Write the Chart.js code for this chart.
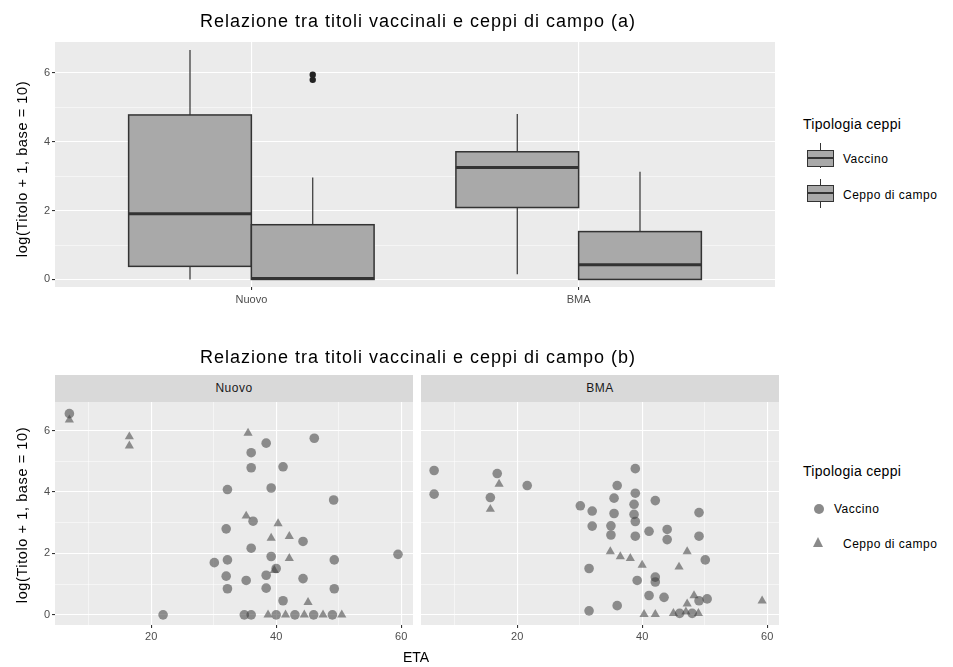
<!DOCTYPE html>
<html><head><meta charset="utf-8">
<script src="https://cdn.jsdelivr.net/npm/chart.js@4.4.0/dist/chart.umd.min.js"></script>
<style>
body{margin:0;background:#fff;width:953px;height:667px;position:relative;overflow:hidden;font-family:"Liberation Sans",Arial,sans-serif;}
.abs{position:absolute;white-space:nowrap;}
canvas{position:absolute;}
.title{font-size:18px;letter-spacing:1px;color:#000;transform:translateX(-50%);}
.ytitle{font-size:14.5px;letter-spacing:0.6px;color:#000;transform:translate(-50%,-50%) rotate(-90deg);}
.strip{position:absolute;background:#d9d9d9;font-size:12px;letter-spacing:0.5px;color:#1a1a1a;text-align:center;}
.legt{font-size:14px;letter-spacing:0.3px;color:#000;}
.legl{font-size:12px;letter-spacing:0.5px;color:#000;transform:translateY(-50%);}
.kbox{position:absolute;background:#a9a9a9;border:1px solid #333;box-sizing:border-box;}
.kline{position:absolute;background:#333;}
</style></head>
<body>
<canvas id="cA" width="790" height="330" style="left:0;top:0"></canvas>
<canvas id="cB" width="420" height="327" style="left:0;top:340px"></canvas>
<canvas id="cC" width="380" height="327" style="left:415px;top:340px"></canvas>

<div class="abs title" style="left:418px;top:11px">Relazione tra titoli vaccinali e ceppi di campo (a)</div>
<div class="abs title" style="left:418px;top:347px">Relazione tra titoli vaccinali e ceppi di campo (b)</div>
<div class="abs ytitle" style="left:22px;top:169px">log(Titolo + 1, base = 10)</div>
<div class="abs ytitle" style="left:22px;top:515px">log(Titolo + 1, base = 10)</div>
<div class="abs" style="left:403px;top:649px;font-size:14px">ETA</div>

<div class="strip" id="s0" style="left:55px;top:375px;width:358px;height:27px;line-height:27px"></div>
<div class="strip" id="s1" style="left:421px;top:375px;width:358px;height:27px;line-height:27px"></div>

<!-- legend top -->
<div class="abs legt" style="left:803px;top:116px">Tipologia ceppi</div>
<div class="kline" style="left:820px;top:143px;width:1px;height:25px"></div>
<div class="kbox" style="left:807px;top:150px;width:27px;height:17px"></div>
<div class="kline" style="left:807px;top:157px;width:27px;height:2px"></div>
<div class="abs legl" id="lA0" style="left:843px;top:159px"></div>
<div class="kline" style="left:820px;top:179px;width:1px;height:29px"></div>
<div class="kbox" style="left:807px;top:185px;width:27px;height:17px"></div>
<div class="kline" style="left:807px;top:192px;width:27px;height:2px"></div>
<div class="abs legl" id="lA1" style="left:843px;top:195px"></div>

<!-- legend bottom -->
<div class="abs legt" style="left:803px;top:463px">Tipologia ceppi</div>
<div class="abs" style="left:814px;top:504px;width:10px;height:10px;border-radius:50%;background:rgba(60,60,60,0.6)"></div>
<div class="abs legl" id="lB0" style="left:834px;top:509px"></div>
<div class="abs" style="left:813px;top:537px;width:0;height:0;border-left:5.5px solid transparent;border-right:5.5px solid transparent;border-bottom:10px solid rgba(60,60,60,0.6)"></div>
<div class="abs legl" id="lB1" style="left:843px;top:544px"></div>

<script>
// ---------- data ----------
const categories = ['Nuovo', 'BMA'];
const groups = ['Vaccino', 'Ceppo di campo'];
const yTicks = [0, 1, 2, 3, 4, 5, 6];
const etaTicks = [10, 20, 30, 40, 50, 60];

// boxplot (a)
const vacMin = [0, 0.15], vacQ1 = [0.38, 2.09], vacMed = [1.91, 3.25], vacQ3 = [4.78, 3.71], vacMax = [6.67, 4.81];
const cepMin = [0, 0],    cepQ1 = [0, 0],       cepMed = [0.03, 0.43], cepQ3 = [1.59, 1.39], cepMax = [2.96, 3.13];
const cepOutCat = [0, 0], cepOutVal = [5.8, 5.95];

// scatter (b) — facet Nuovo
const nuovoVacEta = [6.9,21.9,30.1,32.2,32.0,32.2,32.0,32.2,36.0,36.0,38.4,46.1,41.1,39.2,49.2,36.3,44.3,36.0,39.2,49.3,59.5,40.0,38.4,35.2,44.3,38.4,49.3,41.1,34.9,36.0,40.0,43.0,46.0,49.0];
const nuovoVacTit = [6.55,0,1.7,1.79,2.8,4.08,1.26,0.85,5.28,4.79,5.59,5.75,4.82,4.13,3.74,3.05,2.39,2.17,1.9,1.79,1.97,1.51,1.29,1.12,1.18,0.87,0.85,0.46,0,0,0,0,0,0];
const nuovoCepEta = [6.9,16.5,16.5,35.5,35.2,40.3,39.2,42.1,42.1,39.7,45.1,38.7,41.5,44.5,47.5,50.5];
const nuovoCepTit = [6.35,5.5,5.8,5.92,3.22,2.97,2.5,2.56,1.84,1.45,0.41,0,0,0,0,0];
// facet BMA
const bmaVacEta = [6.7,6.7,16.8,15.7,21.6,30.1,32.0,32.0,31.5,31.5,38.9,36.0,38.9,42.1,35.5,35.5,35.0,35.0,38.7,38.7,38.9,49.1,41.1,38.9,44.0,44.0,49.1,50.1,39.2,42.1,42.1,41.1,43.5,50.4,36.0,49.1,46.0,48.0];
const bmaVacTit = [4.7,3.93,4.6,3.82,4.21,3.55,3.38,2.89,1.51,0.13,4.76,4.21,3.96,3.72,3.8,3.3,2.9,2.6,3.6,3.27,3.04,3.33,2.72,2.56,2.78,2.45,2.56,1.79,1.12,1.23,1.07,0.63,0.57,0.52,0.3,0.46,0.05,0.05];
const bmaCepEta = [17.1,15.7,34.9,36.5,38.1,47.2,45.9,40.0,48.3,40.3,42.1,47.2,59.2,45.0,47.0,49.0];
const bmaCepTit = [4.26,3.44,2.06,1.9,1.84,2.06,1.56,1.62,0.63,0.02,0.02,0.36,0.46,0.05,0.1,0.05];

// ---------- text ----------
document.getElementById('s0').textContent = categories[0];
document.getElementById('s1').textContent = categories[1];
document.getElementById('lA0').textContent = groups[0];
document.getElementById('lA1').textContent = groups[1];
document.getElementById('lB0').textContent = groups[0];
document.getElementById('lB1').textContent = groups[1];

// ---------- helpers ----------
const FONT = {family: '"Liberation Sans", Arial, sans-serif', size: 11};
const TICKCOL = '#4d4d4d';
const panelBg = {id: 'panelBg', beforeDraw(chart) {
  const {ctx, chartArea: a} = chart;
  ctx.save(); ctx.fillStyle = '#ebebeb';
  ctx.fillRect(a.left, a.top, a.right - a.left, a.bottom - a.top);
  ctx.restore();
}};
const zip = (xs, ys) => xs.map((x, i) => ({x, y: ys[i]}));

function yScale(min, max, showLabels) {
  return {
    type: 'linear', min, max,
    afterBuildTicks: s => { s.ticks = yTicks.map(v => ({value: v})); },
    afterFit: s => { s.width = showLabels ? 20 : 0; },
    border: {display: false},
    grid: {color: '#ffffff', lineWidth: c => (c.tick && c.tick.value % 2 === 0) ? 1.1 : 0.5,
           drawTicks: showLabels, tickLength: 3,
           tickColor: c => (c.tick && c.tick.value % 2 === 0) ? '#333333' : 'rgba(0,0,0,0)'},
    ticks: {display: showLabels, font: FONT, color: TICKCOL, padding: 2,
            callback: v => (v % 2 === 0 ? String(v) : '')}
  };
}

// ---------- chart A: boxplots ----------
const boxPlugin = {id: 'boxes', beforeDatasetsDraw(chart) {
  const xs = chart.scales.x, ys = chart.scales.y, ctx = chart.ctx;
  const stats = [[vacMin, vacQ1, vacMed, vacQ3, vacMax], [cepMin, cepQ1, cepMed, cepQ3, cepMax]];
  const half = 0.1875;
  ctx.save();
  stats.forEach((st, gi) => {
    categories.forEach((c, ci) => {
      const xc = ci + 1 + (gi === 0 ? -half : half);
      const x0 = xs.getPixelForValue(xc - half), x1 = xs.getPixelForValue(xc + half), xm = xs.getPixelForValue(xc);
      const [mn, q1, md, q3, mx] = st.map(a => ys.getPixelForValue(a[ci]));
      ctx.strokeStyle = '#333333';
      ctx.lineWidth = 1.2;
      ctx.beginPath(); ctx.moveTo(xm, mx); ctx.lineTo(xm, q3); ctx.moveTo(xm, q1); ctx.lineTo(xm, mn); ctx.stroke();
      ctx.fillStyle = '#a9a9a9';
      ctx.fillRect(x0, q3, x1 - x0, q1 - q3);
      ctx.lineWidth = 1.5;
      ctx.strokeRect(x0, q3, x1 - x0, q1 - q3);
      ctx.lineWidth = 3;
      ctx.beginPath(); ctx.moveTo(x0, md); ctx.lineTo(x1, md); ctx.stroke();
    });
  });
  ctx.restore();
}};

new Chart(document.getElementById('cA'), {
  type: 'scatter',
  data: {datasets: [{
    label: groups[1] + ' outlier',
    data: cepOutCat.map((c, i) => ({x: c + 1 + 0.1875, y: cepOutVal[i]})),
    pointStyle: 'circle', pointRadius: 3.2, backgroundColor: '#222', borderWidth: 0
  }]},
  options: {
    responsive: false, animation: false, devicePixelRatio: 1,
    layout: {padding: {left: 35, right: 15, top: 42, bottom: 18}},
    plugins: {legend: {display: false}, tooltip: {enabled: false}},
    scales: {
      x: {type: 'linear', min: 0.4, max: 2.6,
          afterBuildTicks: s => { s.ticks = categories.map((c, i) => ({value: i + 1})); },
          afterFit: s => { s.height = 25; },
          border: {display: false},
          grid: {color: '#ffffff', lineWidth: 1.1, tickLength: 3, tickColor: '#333333'},
          ticks: {font: FONT, color: TICKCOL, padding: 3, maxRotation: 0,
                  callback: v => categories[Math.round(v) - 1] || ''}},
      y: yScale(-0.22, 6.9, true)
    }
  },
  plugins: [panelBg, boxPlugin]
});

// ---------- charts B/C: scatter facets ----------
function facet(id, vx, vy, cx, cy, showY, pad) {
  new Chart(document.getElementById(id), {
    type: 'scatter',
    data: {datasets: [
      {label: groups[0], data: zip(vx, vy), pointStyle: 'circle', pointRadius: 4.8,
       backgroundColor: 'rgba(60,60,60,0.55)', borderWidth: 0},
      {label: groups[1], data: zip(cx, cy), pointStyle: 'triangle', pointRadius: 5.3,
       backgroundColor: 'rgba(60,60,60,0.55)', borderWidth: 0}
    ]},
    options: {
      responsive: false, animation: false, devicePixelRatio: 1,
      layout: {padding: pad},
      plugins: {legend: {display: false}, tooltip: {enabled: false}},
      scales: {
        x: {type: 'linear', min: 4.6, max: 61.9,
            afterBuildTicks: s => { s.ticks = etaTicks.map(v => ({value: v})); },
            afterFit: s => { s.height = 22; },
            border: {display: false},
            grid: {color: '#ffffff', lineWidth: c => (c.tick && c.tick.value % 20 === 0) ? 1.1 : 0.5,
                   tickLength: 3,
                   tickColor: c => (c.tick && c.tick.value % 20 === 0) ? '#333333' : 'rgba(0,0,0,0)'},
            ticks: {font: FONT, color: TICKCOL, padding: 2, maxRotation: 0,
                    callback: v => (v % 20 === 0 ? String(v) : '')}},
        y: yScale(-0.33, 6.93, showY)
      }
    },
    plugins: [panelBg]
  });
}
facet('cB', nuovoVacEta, nuovoVacTit, nuovoCepEta, nuovoCepTit, true, {left: 35, right: 7, top: 62, bottom: 20});
facet('cC', bmaVacEta, bmaVacTit, bmaCepEta, bmaCepTit, false, {left: 6, right: 16, top: 62, bottom: 20});
</script>
</body></html>
